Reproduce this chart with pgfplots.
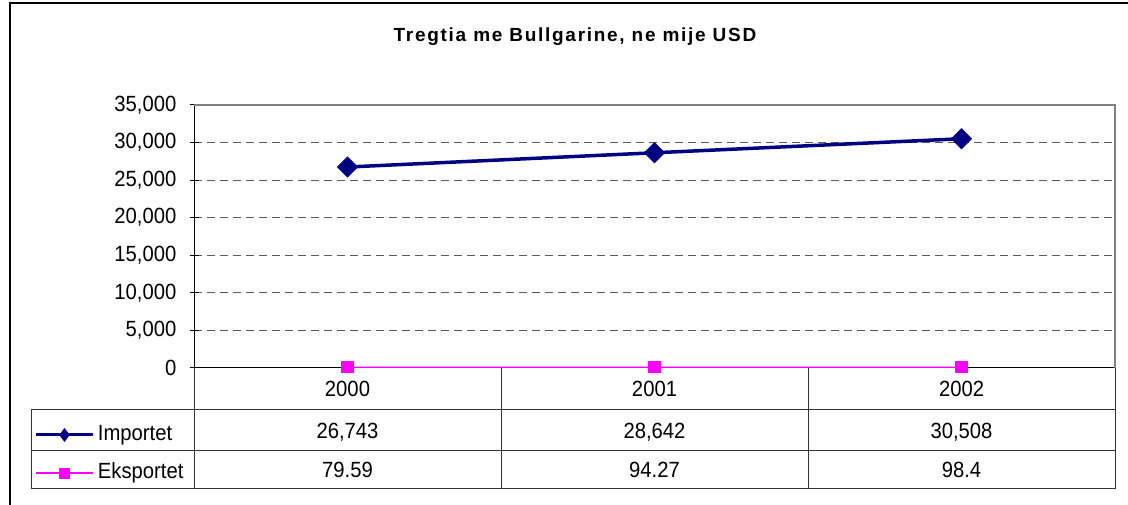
\documentclass[border=0pt]{standalone}
\usepackage{fontspec}
\setmainfont{Liberation Sans}[FakeStretch=0.92]
\newfontfamily\titlefont{Liberation Sans}[LetterSpace=9]
\usepackage{pgfplots}
\pgfplotsset{compat=1.18}
\definecolor{navyblue}{RGB}{0,0,128}
\definecolor{magentaX}{RGB}{255,0,255}
\definecolor{gridgray}{RGB}{90,90,90}
\definecolor{bordergray}{RGB}{128,128,128}
\newcommand{\tabfont}{\fontsize{22bp}{24bp}\selectfont}
\begin{document}
\begin{tikzpicture}[x=1bp,y=1bp,font=\tabfont]
\useasboundingbox (0,0) rectangle (1128,505);
\fill[white] (0,0) rectangle (1128,505);
\draw[line width=2.5bp] (10,0) -- (10,502) -- (1128,502);
\node[anchor=base,font=\titlefont\bfseries\fontsize{19bp}{21bp}\selectfont] at (575,463) {Tregtia me Bullgarine, ne mije USD};
\begin{axis}[
  at={(194bp,137bp)}, anchor=south west,
  width=921bp, height=263bp, scale only axis,
  xmin=-0.5, xmax=2.5, ymin=0, ymax=35000,
  xtick={0,1,2}, xticklabels={2000,2001,2002},
  ytick={0,5000,...,35000},
  scaled y ticks=false,
  axis x line*=bottom, axis y line*=left,
  axis line style={black, line width=1bp},
  tick align=center, major tick length=9bp,
  xtick style={draw=none},
  ytick style={black, line width=1bp},
  xticklabel style={font=\tabfont, anchor=base, yshift=-24bp},
  yticklabel style={font=\tabfont, inner sep=0pt, anchor=east, xshift=-13bp},
  ymajorgrids,
  grid style={gridgray, dash pattern=on 8bp off 5bp, line width=1bp},
  legend style={at={(-0.17264,-0.2129)}, anchor=north west, draw=none, fill=none,
    inner sep=0pt, outer sep=0pt, row sep=16bp, column sep=4bp, font=\tabfont,
    nodes={inner sep=0pt, text height=17bp, text depth=5bp}},
  legend cell align=left,
  legend image code/.code={\draw[mark repeat=2,mark phase=2,#1] plot coordinates {(0bp,0bp) (28bp,0bp) (56bp,0bp)};},
  /pgf/number format/1000 sep={,},
  /pgf/number format/assume math mode=true,
]
\addplot[navyblue, line width=3.5bp, mark=square*, mark size=7bp, mark options={rotate=45, line width=1bp}, forget plot]
  coordinates {(0,26743) (1,28642) (2,30508)};
\addplot[magentaX, line width=1.5bp, mark=square*, mark size=5.3bp, forget plot]
  coordinates {(0,79.59) (1,94.27) (2,98.4)};
\addlegendimage{navyblue, line width=3bp, mark=diamond*, mark size=6.5bp, mark options={line width=0.5bp}}
\addlegendentry{Importet}
\addlegendimage{magentaX, line width=1.5bp, mark=square*, mark size=5bp, mark options={line width=0.5bp}}
\addlegendentry{Eksportet}
\end{axis}
\draw[bordergray, line width=1.5bp] (194,400) -- (1115,400) -- (1115,137);
\draw[black!80, line width=1bp]
  (31,95) -- (1115,95)
  (31,54) -- (1115,54)
  (31,16) -- (1115,16)
  (31,16) -- (31,95)
  (194,16) -- (194,137)
  (501,16) -- (501,137)
  (808,16) -- (808,137)
  (1115,16) -- (1115,137);
\node[anchor=base] at (347.5,66) {26,743};
\node[anchor=base] at (654.5,66) {28,642};
\node[anchor=base] at (961.5,66) {30,508};
\node[anchor=base] at (347.5,27) {79.59};
\node[anchor=base] at (654.5,27) {94.27};
\node[anchor=base] at (961.5,27) {98.4};
\end{tikzpicture}
\end{document}
